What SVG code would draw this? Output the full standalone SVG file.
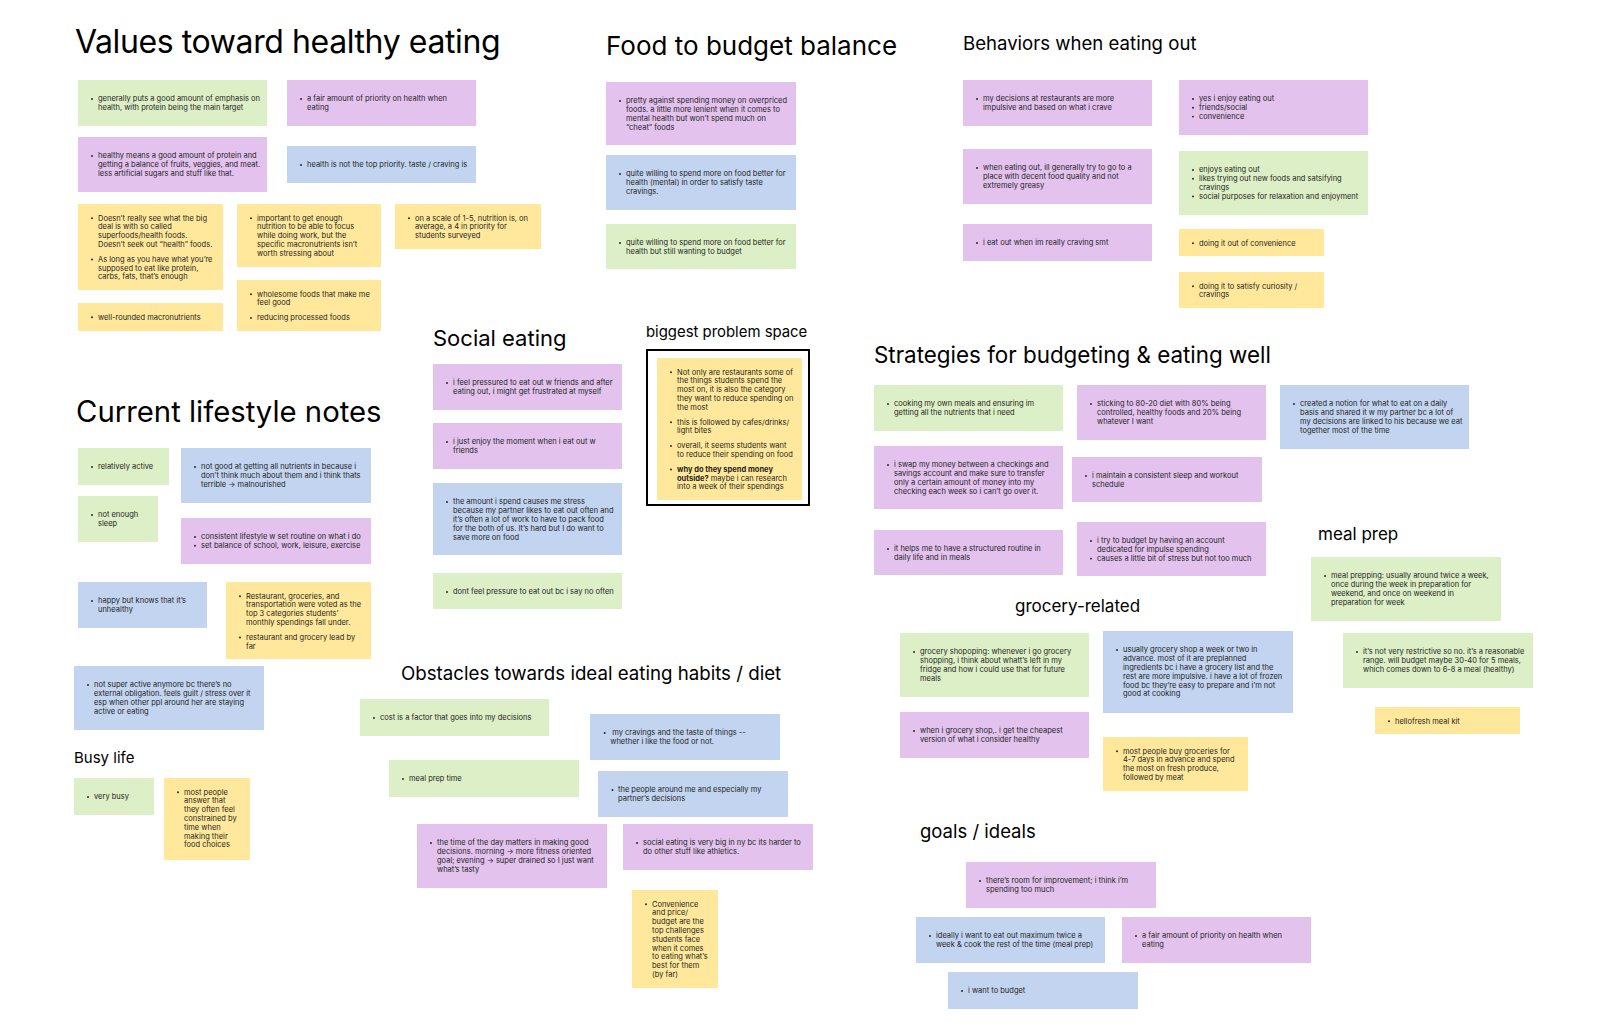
<svg xmlns="http://www.w3.org/2000/svg" width="1600" height="1036" viewBox="0 0 1600 1036">
<style>
.g{fill:#dcefc6}.p{fill:#e3c2ee}.b{fill:#c2d4ef}.y{fill:#ffe89b}
.t{font-family:Inter,'Noto Sans','Liberation Sans',sans-serif;font-size:7.5px;fill:#1e1e1e}
.h{font-family:Inter,'Noto Sans','Liberation Sans',sans-serif;fill:#000}
.d{fill:#1e1e1e}
.bold{font-weight:700}
</style>
<rect x="0" y="0" width="1600" height="1036" fill="#ffffff"/>

<!-- Titles -->
<g id="titles">
<text class="h" x="75" y="52.5" font-size="32" letter-spacing="-0.4">Values toward healthy eating</text>
<text class="h" x="76" y="422" font-size="29.3">Current lifestyle notes</text>
<text class="h" x="606" y="55" font-size="26">Food to budget balance</text>
<text class="h" x="963" y="50" font-size="18.6">Behaviors when eating out</text>
<text class="h" x="433" y="346" font-size="22">Social eating</text>
<text class="h" x="646" y="337" font-size="14.9">biggest problem space</text>
<text class="h" x="874" y="363" font-size="22.4">Strategies for budgeting &amp; eating well</text>
<text class="h" x="1318" y="540" font-size="17">meal prep</text>
<text class="h" x="1015" y="612" font-size="17">grocery-related</text>
<text class="h" x="401" y="680" font-size="18.7">Obstacles towards ideal eating habits / diet</text>
<text class="h" x="920" y="838" font-size="18.5">goals / ideals</text>
<text class="h" x="74" y="763" font-size="15">Busy life</text>
</g>

<!-- Values -->
<g id="n1"><rect class="g" x="78" y="80" width="189" height="46"/><circle class="d" cx="92" cy="99" r="0.95"/>
<text class="t"><tspan x="98" y="101.3">generally puts a good amount of emphasis on</tspan><tspan x="98" y="110.1">health, with protein being the main target</tspan></text></g>
<g id="n2"><rect class="p" x="287" y="80" width="189" height="46"/><circle class="d" cx="301" cy="99" r="0.95"/>
<text class="t"><tspan x="307" y="101.3">a fair amount of priority on health when</tspan><tspan x="307" y="110.1">eating</tspan></text></g>
<g id="n3"><rect class="p" x="78" y="137" width="189" height="55"/><circle class="d" cx="92" cy="156" r="0.95"/>
<text class="t"><tspan x="98" y="158.3">healthy means a good amount of protein and</tspan><tspan x="98" y="167.1">getting a balance of fruits, veggies, and meat.</tspan><tspan x="98" y="175.9">less artificial sugars and stuff like that.</tspan></text></g>
<g id="n4"><rect class="b" x="287" y="146" width="189" height="37"/><circle class="d" cx="301" cy="165" r="0.95"/>
<text class="t"><tspan x="307" y="167.3">health is not the top priority. taste / craving is</tspan></text></g>
<g id="n5"><rect class="y" x="78" y="204" width="145" height="86"/><circle class="d" cx="92" cy="218.3" r="0.95"/><circle class="d" cx="92" cy="259.5" r="0.95"/>
<text class="t"><tspan x="98" y="220.6">Doesn’t really see what the big</tspan><tspan x="98" y="229.4">deal is with so called</tspan><tspan x="98" y="238.2">superfoods/health foods.</tspan><tspan x="98" y="247">Doesn’t seek out “health” foods.</tspan><tspan x="98" y="261.8">As long as you have what you’re</tspan><tspan x="98" y="270.6">supposed to eat like protein,</tspan><tspan x="98" y="279.4">carbs, fats, that’s enough</tspan></text></g>
<g id="n6"><rect class="y" x="237" y="204" width="144" height="63"/><circle class="d" cx="251" cy="218.3" r="0.95"/>
<text class="t"><tspan x="257" y="220.6">important to get enough</tspan><tspan x="257" y="229.4">nutrition to be able to focus</tspan><tspan x="257" y="238.2">while doing work, but the</tspan><tspan x="257" y="247">specific macronutrients isn’t</tspan><tspan x="257" y="255.8">worth stressing about</tspan></text></g>
<g id="n7"><rect class="y" x="395" y="204" width="146" height="45"/><circle class="d" cx="409" cy="218.3" r="0.95"/>
<text class="t"><tspan x="415" y="220.6">on a scale of 1-5, nutrition is, on</tspan><tspan x="415" y="229.4">average, a 4 in priority for</tspan><tspan x="415" y="238.2">students surveyed</tspan></text></g>
<g id="n8"><rect class="y" x="78" y="303" width="145" height="28"/><circle class="d" cx="92" cy="317.3" r="0.95"/>
<text class="t"><tspan x="98" y="319.6">well-rounded macronutrients</tspan></text></g>
<g id="n9"><rect class="y" x="237" y="280" width="144" height="51"/><circle class="d" cx="251" cy="294.3" r="0.95"/><circle class="d" cx="251" cy="317.9" r="0.95"/>
<text class="t"><tspan x="257" y="296.6">wholesome foods that make me</tspan><tspan x="257" y="305.4">feel good</tspan><tspan x="257" y="320.2">reducing processed foods</tspan></text></g>

<!-- Food to budget -->
<g id="n10"><rect class="p" x="606" y="82" width="190" height="63"/><circle class="d" cx="620" cy="101" r="0.95"/>
<text class="t"><tspan x="626" y="103.3">pretty against spending money on overpriced</tspan><tspan x="626" y="112.1">foods. a little more lenient when it comes to</tspan><tspan x="626" y="120.9">mental health but won’t spend much on</tspan><tspan x="626" y="129.7">“cheat” foods</tspan></text></g>
<g id="n11"><rect class="b" x="606" y="155" width="190" height="55"/><circle class="d" cx="620" cy="174" r="0.95"/>
<text class="t"><tspan x="626" y="176.3">quite willing to spend more on food better for</tspan><tspan x="626" y="185.1">health (mental) in order to satisfy taste</tspan><tspan x="626" y="193.9">cravings.</tspan></text></g>
<g id="n12"><rect class="g" x="606" y="224" width="190" height="45"/><circle class="d" cx="620" cy="243" r="0.95"/>
<text class="t"><tspan x="626" y="245.3">quite willing to spend more on food better for</tspan><tspan x="626" y="254.1">health but still wanting to budget</tspan></text></g>

<!-- Behaviors -->
<g id="n13"><rect class="p" x="963" y="80" width="189" height="46"/><circle class="d" cx="977" cy="99" r="0.95"/>
<text class="t"><tspan x="983" y="101.3">my decisions at restaurants are more</tspan><tspan x="983" y="110.1">impulsive and based on what i crave</tspan></text></g>
<g id="n14"><rect class="p" x="1179" y="80" width="189" height="55"/><circle class="d" cx="1193" cy="99" r="0.95"/><circle class="d" cx="1193" cy="107.8" r="0.95"/><circle class="d" cx="1193" cy="116.6" r="0.95"/>
<text class="t"><tspan x="1199" y="101.3">yes i enjoy eating out</tspan><tspan x="1199" y="110.1">friends/social</tspan><tspan x="1199" y="118.9">convenience</tspan></text></g>
<g id="n15"><rect class="p" x="963" y="149" width="189" height="55"/><circle class="d" cx="977" cy="168" r="0.95"/>
<text class="t"><tspan x="983" y="170.3">when eating out, ill generally try to go to a</tspan><tspan x="983" y="179.1">place with decent food quality and not</tspan><tspan x="983" y="187.9">extremely greasy</tspan></text></g>
<g id="n16"><rect class="g" x="1179" y="151" width="189" height="64"/><circle class="d" cx="1193" cy="170" r="0.95"/><circle class="d" cx="1193" cy="178.8" r="0.95"/><circle class="d" cx="1193" cy="196.4" r="0.95"/>
<text class="t"><tspan x="1199" y="172.3">enjoys eating out</tspan><tspan x="1199" y="181.1">likes trying out new foods and satsifying</tspan><tspan x="1199" y="189.9">cravings</tspan><tspan x="1199" y="198.7">social purposes for relaxation and enjoyment</tspan></text></g>
<g id="n17"><rect class="p" x="963" y="224" width="189" height="37"/><circle class="d" cx="977" cy="243" r="0.95"/>
<text class="t"><tspan x="983" y="245.3">i eat out when im really craving smt</tspan></text></g>
<g id="n18"><rect class="y" x="1179" y="229" width="145" height="27"/><circle class="d" cx="1193" cy="243.3" r="0.95"/>
<text class="t"><tspan x="1199" y="245.6">doing it out of convenience</tspan></text></g>
<g id="n19"><rect class="y" x="1179" y="272" width="145" height="36"/><circle class="d" cx="1193" cy="286.3" r="0.95"/>
<text class="t"><tspan x="1199" y="288.6">doing it to satisfy curiosity /</tspan><tspan x="1199" y="297.4">cravings</tspan></text></g>

<!-- Current lifestyle -->
<g id="n20"><rect class="g" x="78" y="448" width="91" height="37"/><circle class="d" cx="92" cy="467" r="0.95"/>
<text class="t"><tspan x="98" y="469.3">relatively active</tspan></text></g>
<g id="n21"><rect class="b" x="181" y="448" width="190" height="55"/><circle class="d" cx="195" cy="467" r="0.95"/>
<text class="t"><tspan x="201" y="469.3">not good at getting all nutrients in because i</tspan><tspan x="201" y="478.1">don’t think much about them and i think thats</tspan><tspan x="201" y="486.9">terrible → malnourished</tspan></text></g>
<g id="n22"><rect class="g" x="78" y="496" width="80" height="46"/><circle class="d" cx="92" cy="515" r="0.95"/>
<text class="t"><tspan x="98" y="517.3">not enough</tspan><tspan x="98" y="526.1">sleep</tspan></text></g>
<g id="n23"><rect class="p" x="181" y="518" width="190" height="46"/><circle class="d" cx="195" cy="537" r="0.95"/><circle class="d" cx="195" cy="545.8" r="0.95"/>
<text class="t"><tspan x="201" y="539.3">consistent lifestyle w set routine on what i do</tspan><tspan x="201" y="548.1">set balance of school, work, leisure, exercise</tspan></text></g>
<g id="n24"><rect class="b" x="78" y="582" width="129" height="46"/><circle class="d" cx="92" cy="601" r="0.95"/>
<text class="t"><tspan x="98" y="603.3">happy but knows that it’s</tspan><tspan x="98" y="612.1">unhealthy</tspan></text></g>
<g id="n25"><rect class="y" x="226" y="582" width="145" height="77"/><circle class="d" cx="240" cy="596.3" r="0.95"/><circle class="d" cx="240" cy="637.5" r="0.95"/>
<text class="t"><tspan x="246" y="598.6">Restaurant, groceries, and</tspan><tspan x="246" y="607.4">transportation were voted as the</tspan><tspan x="246" y="616.2">top 3 categories students’</tspan><tspan x="246" y="625">monthly spendings fall under.</tspan><tspan x="246" y="639.8">restaurant and grocery lead by</tspan><tspan x="246" y="648.6">far</tspan></text></g>
<g id="n26"><rect class="b" x="74" y="666" width="190" height="64"/><circle class="d" cx="88" cy="685" r="0.95"/>
<text class="t"><tspan x="94" y="687.3">not super active anymore bc there’s no</tspan><tspan x="94" y="696.1">external obligation. feels guilt / stress over it</tspan><tspan x="94" y="704.9">esp when other ppl around her are staying</tspan><tspan x="94" y="713.7">active or eating</tspan></text></g>

<!-- Busy life -->
<g id="n27"><rect class="g" x="74" y="778" width="80" height="37"/><circle class="d" cx="88" cy="797" r="0.95"/>
<text class="t"><tspan x="94" y="799.3">very busy</tspan></text></g>
<g id="n28"><rect class="y" x="164" y="778" width="86" height="82"/><circle class="d" cx="178" cy="792.3" r="0.95"/>
<text class="t"><tspan x="184" y="794.6">most people</tspan><tspan x="184" y="803.4">answer that</tspan><tspan x="184" y="812.2">they often feel</tspan><tspan x="184" y="821">constrained by</tspan><tspan x="184" y="829.8">time when</tspan><tspan x="184" y="838.6">making their</tspan><tspan x="184" y="847.4">food choices</tspan></text></g>

<!-- Social eating -->
<g id="n29"><rect class="p" x="433" y="364" width="189" height="46"/><circle class="d" cx="447" cy="383" r="0.95"/>
<text class="t"><tspan x="453" y="385.3">i feel pressured to eat out w friends and after</tspan><tspan x="453" y="394.1">eating out, i might get frustrated at myself</tspan></text></g>
<g id="n30"><rect class="p" x="433" y="423" width="189" height="46"/><circle class="d" cx="447" cy="442" r="0.95"/>
<text class="t"><tspan x="453" y="444.3">i just enjoy the moment when i eat out w</tspan><tspan x="453" y="453.1">friends</tspan></text></g>
<g id="n31"><rect class="b" x="433" y="483" width="189" height="72"/><circle class="d" cx="447" cy="502" r="0.95"/>
<text class="t"><tspan x="453" y="504.3">the amount i spend causes me stress</tspan><tspan x="453" y="513.1">because my partner likes to eat out often and</tspan><tspan x="453" y="521.9">it’s often a lot of work to have to pack food</tspan><tspan x="453" y="530.7">for the both of us. It’s hard but I do want to</tspan><tspan x="453" y="539.5">save more on food</tspan></text></g>
<g id="n32"><rect class="g" x="433" y="573" width="189" height="36"/><circle class="d" cx="447" cy="592" r="0.95"/>
<text class="t"><tspan x="453" y="594.3">dont feel pressure to eat out bc i say no often</tspan></text></g>

<!-- Biggest problem space -->
<g id="n33">
<rect x="647" y="350" width="162" height="155" fill="#ffffff" stroke="#000" stroke-width="2"/>
<rect class="y" x="657" y="358" width="145" height="142"/>
<circle class="d" cx="671" cy="372.3" r="0.95"/><circle class="d" cx="671" cy="422.3" r="0.95"/><circle class="d" cx="671" cy="445.9" r="0.95"/><circle class="d" cx="671" cy="469.5" r="0.95"/>
<text class="t"><tspan x="677" y="374.6">Not only are restaurants some of</tspan><tspan x="677" y="383.4">the things students spend the</tspan><tspan x="677" y="392.2">most on, it is also the category</tspan><tspan x="677" y="401">they want to reduce spending on</tspan><tspan x="677" y="409.8">the most</tspan><tspan x="677" y="424.6">this is followed by cafes/drinks/</tspan><tspan x="677" y="433.4">light bites</tspan><tspan x="677" y="448.2">overall, it seems students want</tspan><tspan x="677" y="457">to reduce their spending on food</tspan><tspan x="677" y="471.8" class="bold">why do they spend money</tspan><tspan x="677" y="480.6" class="bold">outside?</tspan><tspan> maybe i can research</tspan><tspan x="677" y="489.4">into a week of their spendings</tspan></text>
</g>

<!-- Strategies -->
<g id="n34"><rect class="g" x="874" y="385" width="189" height="46"/><circle class="d" cx="888" cy="404" r="0.95"/>
<text class="t"><tspan x="894" y="406.3">cooking my own meals and ensuring im</tspan><tspan x="894" y="415.1">getting all the nutrients that i need</tspan></text></g>
<g id="n35"><rect class="p" x="1077" y="385" width="189" height="55"/><circle class="d" cx="1091" cy="404" r="0.95"/>
<text class="t"><tspan x="1097" y="406.3">sticking to 80-20 diet with 80% being</tspan><tspan x="1097" y="415.1">controlled, healthy foods and 20% being</tspan><tspan x="1097" y="423.9">whatever I want</tspan></text></g>
<g id="n36"><rect class="b" x="1280" y="385" width="189" height="64"/><circle class="d" cx="1294" cy="404" r="0.95"/>
<text class="t"><tspan x="1300" y="406.3">created a notion for what to eat on a daily</tspan><tspan x="1300" y="415.1">basis and shared it w my partner bc a lot of</tspan><tspan x="1300" y="423.9">my decisions are linked to his because we eat</tspan><tspan x="1300" y="432.7">together most of the time</tspan></text></g>
<g id="n37"><rect class="p" x="874" y="446" width="189" height="63"/><circle class="d" cx="888" cy="465" r="0.95"/>
<text class="t"><tspan x="894" y="467.3">i swap my money between a checkings and</tspan><tspan x="894" y="476.1">savings account and make sure to transfer</tspan><tspan x="894" y="484.9">only a certain amount of money into my</tspan><tspan x="894" y="493.7">checking each week so i can’t go over it.</tspan></text></g>
<g id="n38"><rect class="p" x="1072" y="457" width="190" height="45"/><circle class="d" cx="1086" cy="476" r="0.95"/>
<text class="t"><tspan x="1092" y="478.3">i maintain a consistent sleep and workout</tspan><tspan x="1092" y="487.1">schedule</tspan></text></g>
<g id="n39"><rect class="p" x="874" y="530" width="189" height="45"/><circle class="d" cx="888" cy="549" r="0.95"/>
<text class="t"><tspan x="894" y="551.3">it helps me to have a structured routine in</tspan><tspan x="894" y="560.1">daily life and in meals</tspan></text></g>
<g id="n40"><rect class="p" x="1077" y="522" width="189" height="54"/><circle class="d" cx="1091" cy="541" r="0.95"/><circle class="d" cx="1091" cy="558.6" r="0.95"/>
<text class="t"><tspan x="1097" y="543.3">i try to budget by having an account</tspan><tspan x="1097" y="552.1">dedicated for impulse spending</tspan><tspan x="1097" y="560.9">causes a little bit of stress but not too much</tspan></text></g>

<!-- Meal prep -->
<g id="n41"><rect class="g" x="1311" y="557" width="190" height="64"/><circle class="d" cx="1325" cy="576" r="0.95"/>
<text class="t"><tspan x="1331" y="578.3">meal prepping: usually around twice a week,</tspan><tspan x="1331" y="587.1">once during the week in preparation for</tspan><tspan x="1331" y="595.9">weekend, and once on weekend in</tspan><tspan x="1331" y="604.7">preparation for week</tspan></text></g>
<g id="n42"><rect class="g" x="1343" y="633" width="190" height="55"/><circle class="d" cx="1357" cy="652" r="0.95"/>
<text class="t"><tspan x="1363" y="654.3">it’s not very restrictive so no. it’s a reasonable</tspan><tspan x="1363" y="663.1">range. will budget maybe 30-40 for 5 meals,</tspan><tspan x="1363" y="671.9">which comes down to 6-8 a meal (healthy)</tspan></text></g>
<g id="n43"><rect class="y" x="1375" y="707" width="145" height="27"/><circle class="d" cx="1389" cy="721.3" r="0.95"/>
<text class="t"><tspan x="1395" y="723.6">hellofresh meal kit</tspan></text></g>

<!-- Grocery -->
<g id="n44"><rect class="g" x="900" y="633" width="189" height="64"/><circle class="d" cx="914" cy="652" r="0.95"/>
<text class="t"><tspan x="920" y="654.3">grocery shopoping: whenever i go grocery</tspan><tspan x="920" y="663.1">shopping, i think about whatt’s left in my</tspan><tspan x="920" y="671.9">fridge and how i could use that for future</tspan><tspan x="920" y="680.7">meals</tspan></text></g>
<g id="n45"><rect class="b" x="1103" y="631" width="190" height="82"/><circle class="d" cx="1117" cy="650" r="0.95"/>
<text class="t"><tspan x="1123" y="652.3">usually grocery shop a week or two in</tspan><tspan x="1123" y="661.1">advance. most of it are preplanned</tspan><tspan x="1123" y="669.9">ingredients bc i have a grocery list and the</tspan><tspan x="1123" y="678.7">rest are more impulsive. i have a lot of frozen</tspan><tspan x="1123" y="687.5">food bc they’re easy to prepare and i’m not</tspan><tspan x="1123" y="696.3">good at cooking</tspan></text></g>
<g id="n46"><rect class="p" x="900" y="712" width="189" height="46"/><circle class="d" cx="914" cy="731" r="0.95"/>
<text class="t"><tspan x="920" y="733.3">when i grocery shop,. i get the cheapest</tspan><tspan x="920" y="742.1">version of what i consider healthy</tspan></text></g>
<g id="n47"><rect class="y" x="1103" y="737" width="145" height="54"/><circle class="d" cx="1117" cy="751.3" r="0.95"/>
<text class="t"><tspan x="1123" y="753.6">most people buy groceries for</tspan><tspan x="1123" y="762.4">4-7 days in advance and spend</tspan><tspan x="1123" y="771.2">the most on fresh produce,</tspan><tspan x="1123" y="780">followed by meat</tspan></text></g>

<!-- Obstacles -->
<g id="n48"><rect class="g" x="360" y="699" width="189" height="37"/><circle class="d" cx="374" cy="718" r="0.95"/>
<text class="t"><tspan x="380" y="720.3">cost is a factor that goes into my decisions</tspan></text></g>
<g id="n49"><rect class="b" x="590" y="714" width="190" height="46"/><circle class="d" cx="604.7" cy="733" r="0.95"/>
<text class="t"><tspan x="612.3" y="735.3">my cravings and the taste of things --</tspan><tspan x="610.3" y="744.1">whether i like the food or not.</tspan></text></g>
<g id="n50"><rect class="g" x="389" y="760" width="190" height="37"/><circle class="d" cx="403" cy="779" r="0.95"/>
<text class="t"><tspan x="409" y="781.3">meal prep time</tspan></text></g>
<g id="n51"><rect class="b" x="598" y="771" width="190" height="46"/><circle class="d" cx="612.5" cy="790" r="0.95"/>
<text class="t"><tspan x="618" y="792.3">the people around me and especially my</tspan><tspan x="618" y="801.1">partner’s decisions</tspan></text></g>
<g id="n52"><rect class="p" x="417" y="824" width="190" height="64"/><circle class="d" cx="431" cy="843" r="0.95"/>
<text class="t"><tspan x="437" y="845.3">the time of the day matters in making good</tspan><tspan x="437" y="854.1">decisions. morning → more fitness oriented</tspan><tspan x="437" y="862.9">goal; evening → super drained so I just want</tspan><tspan x="437" y="871.7">what’s tasty</tspan></text></g>
<g id="n53"><rect class="p" x="623" y="824" width="190" height="46"/><circle class="d" cx="637" cy="843" r="0.95"/>
<text class="t"><tspan x="643" y="845.3">social eating is very big in ny bc its harder to</tspan><tspan x="643" y="854.1">do other stuff like athletics.</tspan></text></g>
<g id="n54"><rect class="y" x="632" y="890" width="86" height="98"/><circle class="d" cx="646" cy="904.3" r="0.95"/>
<text class="t"><tspan x="652" y="906.6">Convenience</tspan><tspan x="652" y="915.4">and price/</tspan><tspan x="652" y="924.2">budget are the</tspan><tspan x="652" y="933">top challenges</tspan><tspan x="652" y="941.8">students face</tspan><tspan x="652" y="950.6">when it comes</tspan><tspan x="652" y="959.4">to eating what’s</tspan><tspan x="652" y="968.2">best for them</tspan><tspan x="652" y="977">(by far)</tspan></text></g>

<!-- Goals -->
<g id="n55"><rect class="p" x="966" y="862" width="190" height="46"/><circle class="d" cx="980" cy="881" r="0.95"/>
<text class="t"><tspan x="986" y="883.3">there’s room for improvement; i think i’m</tspan><tspan x="986" y="892.1">spending too much</tspan></text></g>
<g id="n56"><rect class="b" x="916" y="917" width="189" height="46"/><circle class="d" cx="930" cy="936" r="0.95"/>
<text class="t"><tspan x="936" y="938.3">ideally i want to eat out maximum twice a</tspan><tspan x="936" y="947.1">week &amp; cook the rest of the time (meal prep)</tspan></text></g>
<g id="n57"><rect class="p" x="1122" y="917" width="189" height="46"/><circle class="d" cx="1136" cy="936" r="0.95"/>
<text class="t"><tspan x="1142" y="938.3">a fair amount of priority on health when</tspan><tspan x="1142" y="947.1">eating</tspan></text></g>
<g id="n58"><rect class="b" x="948" y="972" width="190" height="37"/><circle class="d" cx="962" cy="991" r="0.95"/>
<text class="t"><tspan x="968" y="993.3">i want to budget</tspan></text></g>
</svg>
